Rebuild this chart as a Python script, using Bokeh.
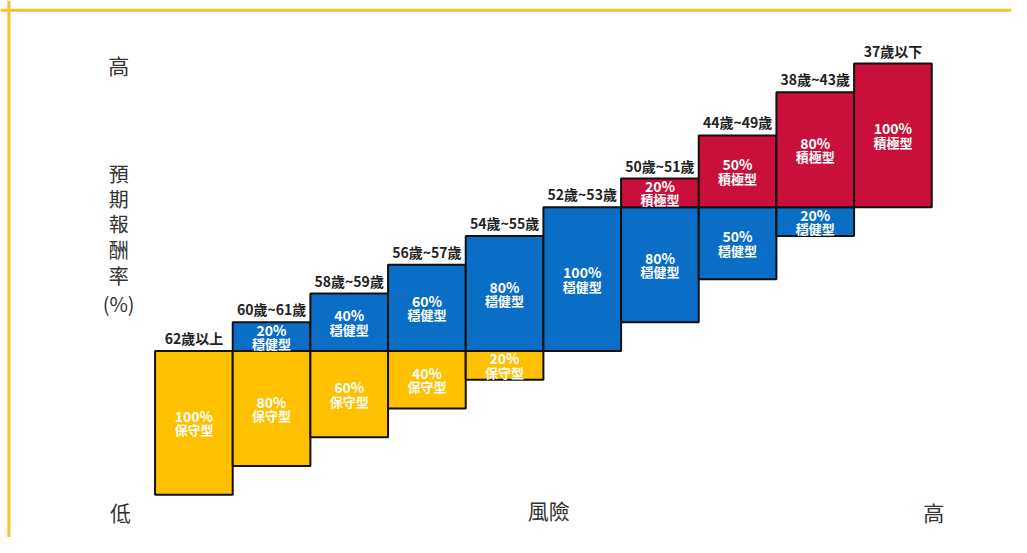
from bokeh.plotting import figure
from bokeh.models import ColumnDataSource, Range1d, Span, Label
from bokeh.core.properties import value
from bokeh.embed import file_html
from bokeh.resources import INLINE

# ---- data ----
ages = ["62歲以上", "60歲~61歲", "58歲~59歲", "56歲~57歲", "54歲~55歲",
        "52歲~53歲", "50歲~51歲", "44歲~49歲", "38歲~43歲", "37歲以下"]
conservative = [100, 80, 60, 40, 20, 0, 0, 0, 0, 0]
balanced = [0, 20, 40, 60, 80, 100, 80, 50, 20, 0]
aggressive = [0, 0, 0, 0, 0, 0, 20, 50, 80, 100]
type_names = ["保守型", "穩健型", "積極型"]
type_colors = ["#FFC000", "#0B6EC6", "#C8103A"]

FONT = "Noto Sans CJK TC"

# ---- build segment table ----
seg = dict(x=[], bottom=[], top=[], color=[], pct=[], name=[], mid=[])
col_x, col_top = [], []
for i, age in enumerate(ages):
    vals = [conservative[i], balanced[i], aggressive[i]]
    y = aggressive[i] - conservative[i]
    for k, v in enumerate(vals):
        if v > 0:
            seg["x"].append(i + 0.5)
            seg["bottom"].append(y)
            seg["top"].append(y + v)
            seg["color"].append(type_colors[k])
            seg["pct"].append(f"{v}%")
            seg["name"].append(type_names[k])
            seg["mid"].append(y + v / 2)
        y += v
    col_x.append(i + 0.5)
    col_top.append(y)

src = ColumnDataSource(seg)
top_src = ColumnDataSource(dict(x=col_x, y=col_top, age=ages))

# reference-pixel -> data helpers (frame shows reference 0..1027 x 0..553)
X0, XW = 157.0, 78.9
Y0, YS = 361.0, 1.48
def dx(px): return (px - X0) / XW
def dy(py): return (Y0 - py) / YS

p = figure(width=1011, height=537, output_backend="svg", toolbar_location=None,
           x_axis_location=None, y_axis_location=None,
           x_range=Range1d(dx(0), dx(1027)), y_range=Range1d(dy(553), dy(0)),
           min_border=0, outline_line_color=None, background_fill_color="white")
p.xgrid.grid_line_color = None
p.ygrid.grid_line_color = None

p.vbar(x="x", width=1, bottom="bottom", top="top", source=src,
       fill_color="color", line_color="#111111", line_width=2)

p.text(x="x", y="mid", text="pct", source=src, text_color="white",
       text_font=value(FONT), text_font_size="14px", text_font_style="bold",
       text_align="center", text_baseline="middle", y_offset=-7)
p.text(x="x", y="mid", text="name", source=src, text_color="white",
       text_font=value(FONT), text_font_size="13px", text_font_style="bold",
       text_align="center", text_baseline="middle", y_offset=7)

p.text(x="x", y="y", text="age", source=top_src, text_color="#222222",
       text_font=value(FONT), text_font_size="14px", text_font_style="bold",
       text_align="center", text_baseline="bottom", y_offset=-3)

# axis captions
def cap(txt, px, py, size="21px"):
    p.add_layout(Label(x=dx(px), y=dy(py), text=txt, text_font=FONT,
                       text_font_size=size, text_color="#333333",
                       text_align="center", text_baseline="middle"))

cap("高", 120, 66)
for ch, py in zip(["預", "期", "報", "酬", "率", "(%)"], [178, 204, 230, 256, 283, 312]):
    cap(ch, 120, py, size="20px")
cap("低", 122, 527)
cap("風險", 557, 525)
cap("高", 948, 527)

# decorative border (top and left)
p.add_layout(Span(location=dy(10), dimension="width", line_color="#F6C12A", line_width=3))
p.add_layout(Span(location=dx(8.5), dimension="height", line_color="#F6C12A", line_width=3))

open("out.html", "w").write(file_html(p, INLINE))
